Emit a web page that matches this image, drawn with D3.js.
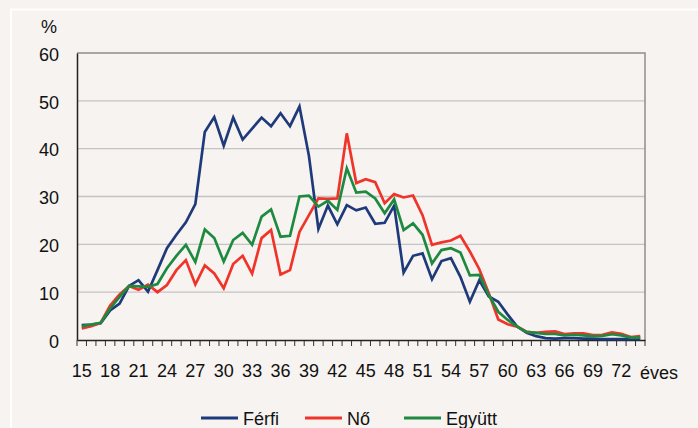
<!DOCTYPE html>
<html>
<head>
    <style>
        body { margin: 0; background: #f6f3f0; }
        svg { display: block; }
        text { font-family: "Liberation Sans", Arial, sans-serif; font-size: 18px; fill: #111; }
    </style>
    <script src="https://d3js.org/d3.v7.min.js"></script>
</head>
<body>
    <script>

        // ages 15..74 (one category per year)
        var ages = d3.range(15, 75);
        var labelAges = [15, 18, 21, 24, 27, 30, 33, 36, 39, 42, 45, 48, 51, 54, 57, 60, 63, 66, 69, 72];
        var yTicks = [0, 10, 20, 30, 40, 50, 60];

        var ferfi = [3.1, 3.2, 3.5, 6.2, 7.6,
                     11.3, 12.5, 10.1, 14.6, 19.2,
                     22.0, 24.6, 28.4, 43.5, 46.6,
                     40.6, 46.5, 41.9, 44.2, 46.5,
                     44.7, 47.4, 44.7, 48.8, 38.5,
                     23.2, 28.1, 24.2, 28.2, 27.1,
                     27.7, 24.3, 24.5, 28.1, 14.1,
                     17.6, 18.1, 12.7, 16.5, 17.1,
                     13.2, 8.0, 12.5, 9.1, 8.0,
                     5.3, 2.8, 1.5, 0.8, 0.4,
                     0.3, 0.4, 0.4, 0.3, 0.3,
                     0.2, 0.2, 0.2, 0.2, 0.2];

        var no = [2.4, 2.9, 3.6, 7.2, 9.5,
                  11.3, 10.5, 11.6, 10.0, 11.5,
                  14.6, 16.7, 11.6, 15.6, 13.9,
                  10.8, 15.9, 17.6, 13.9, 21.3,
                  23.0, 13.7, 14.6, 22.6, 26.1,
                  29.6, 29.5, 29.6, 43.2, 32.8,
                  33.6, 33.0, 28.6, 30.5, 29.8,
                  30.2, 26.1, 19.9, 20.4, 20.8,
                  21.8, 18.5, 14.8, 9.8, 4.3,
                  3.3, 2.8, 1.7, 1.5, 1.7,
                  1.8, 1.25, 1.4, 1.4, 1.05,
                  1.1, 1.6, 1.3, 0.6, 0.8];

        var egyutt = [2.9, 3.2, 3.6, 6.6, 9.0,
                      11.3, 11.2, 11.1, 11.7, 15.0,
                      17.6, 19.9, 16.3, 23.1, 21.3,
                      16.4, 20.9, 22.4, 19.9, 25.8,
                      27.3, 21.6, 21.8, 30.0, 30.2,
                      27.9, 29.1, 27.2, 35.9, 30.8,
                      31.0, 29.6, 26.5, 29.4, 23.0,
                      24.4, 22.0, 16.0, 18.8, 19.2,
                      18.3, 13.5, 13.6, 9.4, 5.9,
                      4.2, 2.8, 1.7, 1.5, 1.25,
                      1.25, 0.95, 1.1, 0.95, 0.8,
                      0.85, 1.2, 0.95, 0.5, 0.5];

        var series = [
            { name: "Férfi", values: ferfi, color: "#1f3a7a" },
            { name: "Nő", values: no, color: "#f0342a" },
            { name: "Együtt", values: egyutt, color: "#1e8a40" }
        ];

        var width = 698, height = 428;
        var pLeft = 77, pRight = 645, pTop = 53, pBottom = 340;

        var svg = d3.select("body").append("svg")
            .attr("width", width).attr("height", height);

        // white frame of the chart box
        svg.append("rect")
            .attr("x", 11).attr("y", 9.5)
            .attr("width", 720).attr("height", 440)
            .attr("fill", "none").attr("stroke", "#fff").attr("stroke-width", 2);

        var x = d3.scaleBand().domain(ages).range([pLeft, pRight]).paddingInner(0).paddingOuter(0);
        var y = d3.scaleLinear().domain([0, 60]).range([pBottom, pTop]);
        var cx = function(a) { return x(a) + x.bandwidth() / 2; };

        // grid
        svg.append("g").selectAll("line")
            .data(yTicks.filter(function(d) { return d > 0 && d < 60; }))
            .enter().append("line")
            .attr("x1", pLeft).attr("x2", pRight)
            .attr("y1", function(d) { return y(d); })
            .attr("y2", function(d) { return y(d); })
            .attr("stroke", "#c4c4c4").attr("stroke-width", 1.4);

        // top and right border
        svg.append("path")
            .attr("d", "M" + pLeft + "," + y(60) + "H" + pRight + "V" + pBottom)
            .attr("fill", "none").attr("stroke", "#8e8e8e").attr("stroke-width", 1.5);

        // y axis
        var yAxis = svg.append("g")
            .attr("transform", "translate(" + pLeft + ",0)")
            .call(d3.axisLeft(y).tickValues(yTicks).tickSize(0).tickPadding(18));
        yAxis.select(".domain").attr("stroke", "#222").attr("stroke-width", 1.5);
        yAxis.selectAll("text").attr("font-family", null).attr("dy", "0.4em");

        svg.append("text").attr("x", 49).attr("y", 33)
            .attr("text-anchor", "middle").text("%");

        // x axis tick marks at category borders
        var borders = ages.map(function(a) { return x(a); }).concat([pRight]);
        svg.append("g").selectAll("line")
            .data(borders).enter().append("line")
            .attr("x1", function(d) { return d; }).attr("x2", function(d) { return d; })
            .attr("y1", pBottom).attr("y2", pBottom + 6)
            .attr("stroke", "#333").attr("stroke-width", 1);

        var xAxis = svg.append("g")
            .attr("transform", "translate(0," + pBottom + ")")
            .call(d3.axisBottom(x).tickValues(labelAges).tickSize(0).tickPadding(24));
        xAxis.select(".domain").attr("stroke", "#222").attr("stroke-width", 1.5);
        xAxis.selectAll("text").attr("font-family", null);

        svg.append("text").attr("x", 640).attr("y", 379).text("éves");

        // lines
        var line = d3.line()
            .x(function(d, i) { return cx(ages[i]); })
            .y(function(d) { return y(d); });

        svg.append("g").selectAll("path")
            .data(series).enter().append("path")
            .attr("d", function(s) { return line(s.values); })
            .attr("fill", "none")
            .attr("stroke", function(s) { return s.color; })
            .attr("stroke-width", 2.7)
            .attr("stroke-linejoin", "miter");

        // legend
        var legendX = [201, 305, 404];
        var lg = svg.append("g").selectAll("g")
            .data(series).enter().append("g")
            .attr("transform", function(s, i) { return "translate(" + legendX[i] + ",418)"; });
        lg.append("line").attr("x1", 0).attr("x2", 37)
            .attr("stroke", function(s) { return s.color; }).attr("stroke-width", 3);
        lg.append("text").attr("x", 42).attr("y", 6.5).text(function(s) { return s.name; });
    </script>
</body>
</html>
